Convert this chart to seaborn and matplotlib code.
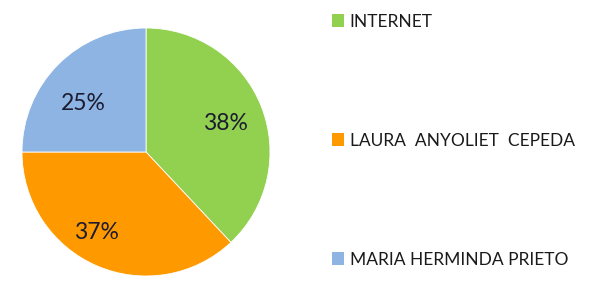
import numpy as np
import matplotlib.pyplot as plt
import seaborn as sns
from matplotlib.patches import Patch

sns.set_theme(style="white")
plt.rcParams['font.family'] = ['Lato', 'DejaVu Sans']

# Data
labels = ["INTERNET", "LAURA  ANYOLIET  CEPEDA", "MARIA HERMINDA PRIETO"]
shares = [38, 37, 25]
colors = ["#92D050", "#FF9900", "#8EB4E3"]

fig = plt.figure(figsize=(5.96, 2.81), dpi=100)
W, H = 596, 281

# Pie axes placed in pixel space: center (146, 152 from top), radius ~124
cx, cy, r = 146, 281 - 152, 124
ax = fig.add_axes([(cx - r) / W, (cy - r) / H, 2 * r / W, 2 * r / H])

wedges, texts, autotexts = ax.pie(
    shares, colors=colors, startangle=90, counterclock=False,
    autopct='%1.0f%%', pctdistance=0.7, radius=1.0,
    wedgeprops=dict(linewidth=0.6, edgecolor='white'),
    textprops=dict(fontsize=16.5, color='#1c1c30'))
ax.set_aspect('equal')
ax.set_xlim(-1.0, 1.0)
ax.set_ylim(-1.0, 1.0)

# nudge percentage labels to sit like the original (distance, angle shift)
label_dist = [0.68, 0.76, 0.64]
label_shift = [-2, -8, 7]
for w, t, d, s in zip(wedges, autotexts, label_dist, label_shift):
    ang = np.deg2rad((w.theta1 + w.theta2) / 2 + s)
    t.set_position((d * np.cos(ang), d * np.sin(ang)))

# Legend on the right, widely spaced rows
handles = [Patch(facecolor=c, edgecolor='none') for c in colors]
fig.legend(handles, labels, loc='upper left',
           bbox_to_anchor=(316 / W, 1 + 2 / H),
           frameon=False, fontsize=12.5, labelspacing=5.93,
           handlelength=0.7, handleheight=0.7, handletextpad=0.35,
           labelcolor='#1a1a1a')

fig.savefig('out.png', dpi=100)
